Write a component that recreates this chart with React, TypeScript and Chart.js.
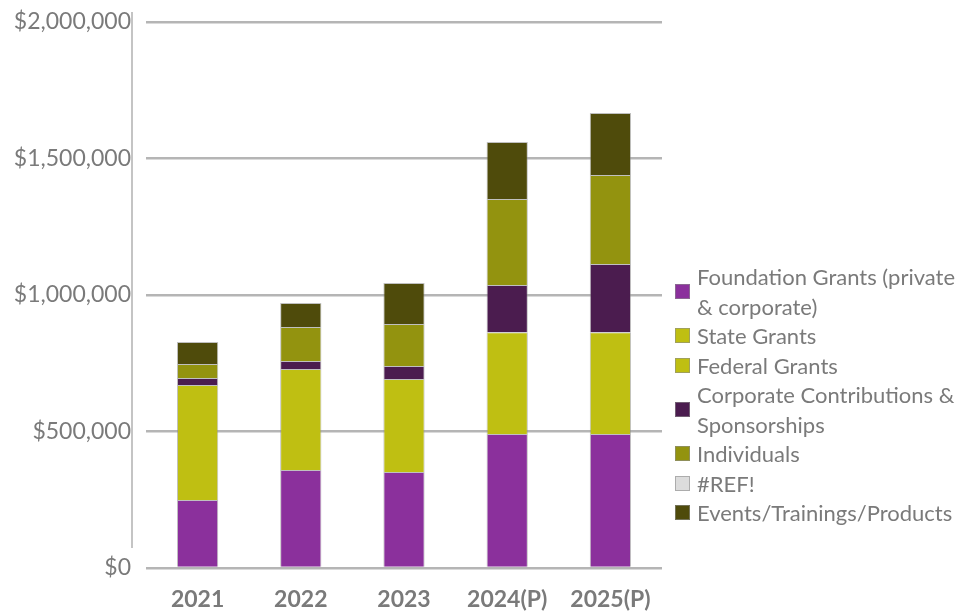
import React, { useEffect, useRef } from "react";
import { Chart, registerables } from "chart.js";

Chart.register(...registerables);

const categories = ["2021", "2022", "2023", "2024(P)", "2025(P)"];
const foundationGrants = [249000, 359000, 352000, 491000, 491000];
const stateGrants = [421000, 370000, 340000, 373000, 373000];
const federalGrants = [0, 0, 0, 0, 0];
const corporateContributions = [26000, 29000, 48000, 173000, 250000];
const individuals = [51000, 125000, 154000, 315000, 326000];
const refErrors = [0, 0, 0, 0, 0];
const eventsTrainingsProducts = [81000, 88000, 150000, 208000, 227000];

const seriesLabels = [
  "Foundation Grants (private & corporate)",
  "State Grants",
  "Federal Grants",
  "Corporate Contributions & Sponsorships",
  "Individuals",
  "#REF!",
  "Events/Trainings/Products",
];
const seriesColors = ["#8B309C", "#BFBF12", "#BFBF12", "#4B1C4F", "#93930F", "#DCDCDC", "#4F4B0B"];
const seriesData = [
  foundationGrants,
  stateGrants,
  federalGrants,
  corporateContributions,
  individuals,
  refErrors,
  eventsTrainingsProducts,
];

const yMin = 0;
const yMax = 2000000;
const yStep = 500000;

const FONT = "Lato, 'Open Sans', sans-serif";
const TEXT = "#7a7a7a";

const sideLine = {
  id: "sideLine",
  afterDraw(chart: any) {
    const { ctx, chartArea } = chart;
    ctx.save();
    ctx.strokeStyle = "#c4c4c4";
    ctx.lineWidth = 2;
    ctx.beginPath();
    ctx.moveTo(chartArea.left - 14, 12);
    ctx.lineTo(chartArea.left - 14, 548);
    ctx.stroke();
    ctx.restore();
  },
};

export default function App() {
  const ref = useRef<HTMLCanvasElement | null>(null);

  useEffect(() => {
    if (!ref.current) return;
    const chart = new Chart(ref.current, {
      type: "bar",
      data: {
        labels: categories,
        datasets: seriesData.map((d, i) => ({
          label: seriesLabels[i],
          data: d,
          backgroundColor: seriesColors[i],
          borderColor: "rgba(140,140,140,0.55)",
          borderWidth: (c: any) => (c.raw ? 1 : 0),
          barPercentage: 0.4,
          categoryPercentage: 1,
        })),
      },
      options: {
        responsive: false,
        animation: false,
        layout: { padding: { left: 0, right: 317, top: 22, bottom: 0 } },
        plugins: {
          legend: { display: false },
          tooltip: { enabled: false },
        },
        scales: {
          x: {
            stacked: true,
            grid: { display: false },
            border: { display: false },
            ticks: {
              color: TEXT,
              font: { family: FONT, size: 23, weight: "bold" },
              padding: 10,
            },
            afterFit: (s: any) => {
              s.height = 43;
              s.paddingLeft = 0;
              s.paddingRight = 0;
            },
          },
          y: {
            stacked: true,
            min: yMin,
            max: yMax,
            grid: { color: "#b5b5b5", lineWidth: 2.5, drawTicks: false },
            border: { display: false },
            ticks: {
              stepSize: yStep,
              color: TEXT,
              font: { family: FONT, size: 23 },
              padding: 15,
              callback: (v: any) => "$" + Number(v).toLocaleString("en-US"),
            },
            afterFit: (s: any) => {
              s.width = 146;
              s.paddingTop = 0;
              s.paddingBottom = 0;
            },
          },
        },
      },
      plugins: [sideLine],
    });
    return () => chart.destroy();
  }, []);

  return (
    <div style={{ position: "fixed", left: 0, top: 0, width: 979, height: 611, background: "#fff" }}>
      <canvas ref={ref} width={979} height={611} style={{ position: "absolute", left: 0, top: 0 }} />
      <div
        style={{
          position: "absolute",
          left: 675,
          top: 262,
          width: 300,
          fontFamily: FONT,
          fontSize: 22,
          color: TEXT,
          lineHeight: "29.5px",
        }}
      >
        {seriesLabels.map((l, i) => (
          <div key={i} style={{ display: "flex", alignItems: "center" }}>
            <div
              style={{
                width: 15,
                height: 15,
                flex: "0 0 15px",
                background: seriesColors[i],
                border: "1px solid rgba(140,140,140,0.6)",
                boxSizing: "border-box",
                marginRight: 7,
              }}
            />
            <div style={{ width: 270 }}>{l}</div>
          </div>
        ))}
      </div>
    </div>
  );
}
